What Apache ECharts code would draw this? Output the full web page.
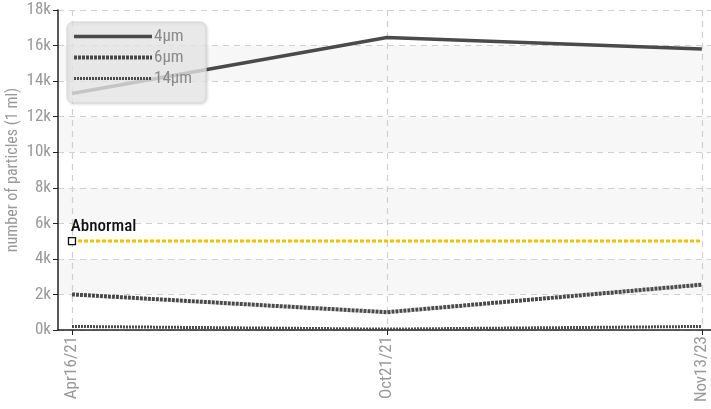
<!DOCTYPE html>
<html>
<head>
<meta charset="utf-8">
<script src="https://cdn.jsdelivr.net/npm/echarts@6/dist/echarts.min.js"></script>
<style>
html,body{margin:0;padding:0;background:#fff;}
#c{width:711px;height:409px;}
</style>
</head>
<body>
<div id="c"></div>
<script>
const categories = ['Apr16/21', 'Oct21/21', 'Nov13/23'];
const s4um = [13300, 16450, 15800];
const s6um = [2000, 1000, 2550];
const s14um = [200, 50, 200];
const abnormal = [5000, 5000, 5000];
const yAxisTitle = 'number of particles (1 ml)';

const FONT = "'Roboto Condensed', 'DejaVu Sans Condensed', sans-serif";
const chart = echarts.init(document.getElementById('c'), null, {renderer: 'canvas'});
const toXY = arr => arr.map((v, i) => [i, v]);

const st4 = {color: '#4a4a4a', width: 3.5, type: 'solid'};
const st6 = {color: '#4a4a4a', width: 4, type: [3, 1]};
const st14 = {color: '#4a4a4a', width: 3, type: [2, 1]};

chart.setOption({
  animation: false,
  textStyle: {fontFamily: FONT},
  grid: {left: 58, top: 10, right: 0, bottom: 79, containLabel: false, outerBoundsMode: 'none'},
  graphic: [{
    type: 'text', x: 13, y: 170, rotation: Math.PI / 2,
    style: {text: yAxisTitle, fill: '#999', font: "16px 'Roboto Condensed', sans-serif",
      align: 'center', verticalAlign: 'middle'}
  }],
  legend: {
    left: 67, top: 22, orient: 'vertical',
    itemWidth: 78, itemHeight: 12, itemGap: 4,
    padding: [6, 14, 16, 5],
    backgroundColor: 'rgba(234,234,234,0.78)',
    borderColor: '#d6d6d6', borderWidth: 1, borderRadius: 6,
    shadowColor: 'rgba(0,0,0,0.15)', shadowBlur: 3, shadowOffsetX: 1, shadowOffsetY: 1,
    itemStyle: {opacity: 0},
    textStyle: {color: '#8a8a8a', fontSize: 17, lineHeight: 16, fontFamily: FONT, padding: [0, 0, 0, -3]},
    data: [
      {name: '4μm', lineStyle: st4},
      {name: '6μm', lineStyle: st6},
      {name: '14μm', lineStyle: st14}
    ]
  },
  xAxis: {
    type: 'value', min: -0.0444, max: 2.029, interval: 1,
    axisLine: {show: true, onZero: false, lineStyle: {color: '#222', width: 1.5}},
    axisTick: {show: true, length: 5, lineStyle: {color: '#222'}, customValues: [0, 1, 2]},
    axisLabel: {
      rotate: 90, color: '#999', fontSize: 17, fontFamily: FONT, margin: 6,
      customValues: [0, 1, 2],
      formatter: v => categories[Math.round(v)] || ''
    },
    splitLine: {show: true, lineStyle: {color: '#d0d0d0', type: [6, 5], width: 1.2}, customValues: [0, 1, 2]}
  },
  yAxis: {
    type: 'value', min: 0, max: 18000, interval: 2000,
    axisLine: {show: true, onZero: false, lineStyle: {color: '#222', width: 1.5}},
    axisTick: {show: true, length: 5, lineStyle: {color: '#222'}},
    axisLabel: {color: '#999', fontSize: 17, fontFamily: FONT, margin: 7,
      formatter: v => (v / 1000) + 'k'},
    splitLine: {show: true, lineStyle: {color: '#d0d0d0', type: [6, 5], width: 1.2}},
    splitArea: {show: true, areaStyle: {color: ['rgba(255,255,255,0)', '#f7f7f7']}}
  },
  series: [
    {
      name: 'Abnormal', type: 'line', z: 3,
      data: abnormal.map((v, i) => i === 0 ? {
        value: [i, v], symbol: 'rect', symbolSize: 7,
        itemStyle: {color: '#fff', borderColor: '#111', borderWidth: 1.3},
        label: {show: true, formatter: 'Abnormal', position: [3, -19], color: '#111', fontSize: 17, fontWeight: 500, fontFamily: FONT}
      } : {value: [i, v], symbol: 'none'}),
      lineStyle: {color: '#f2c200', width: 3, type: [4, 2]},
      showSymbol: true
    },
    {name: '4μm', type: 'line', data: toXY(s4um), symbol: 'none', z: 2, lineStyle: st4, itemStyle: {color: '#4a4a4a'}},
    {name: '6μm', type: 'line', data: toXY(s6um), symbol: 'none', z: 2, lineStyle: st6, itemStyle: {color: '#4a4a4a'}},
    {name: '14μm', type: 'line', data: toXY(s14um), symbol: 'none', z: 2, lineStyle: st14, itemStyle: {color: '#4a4a4a'}}
  ]
});
</script>
</body>
</html>
